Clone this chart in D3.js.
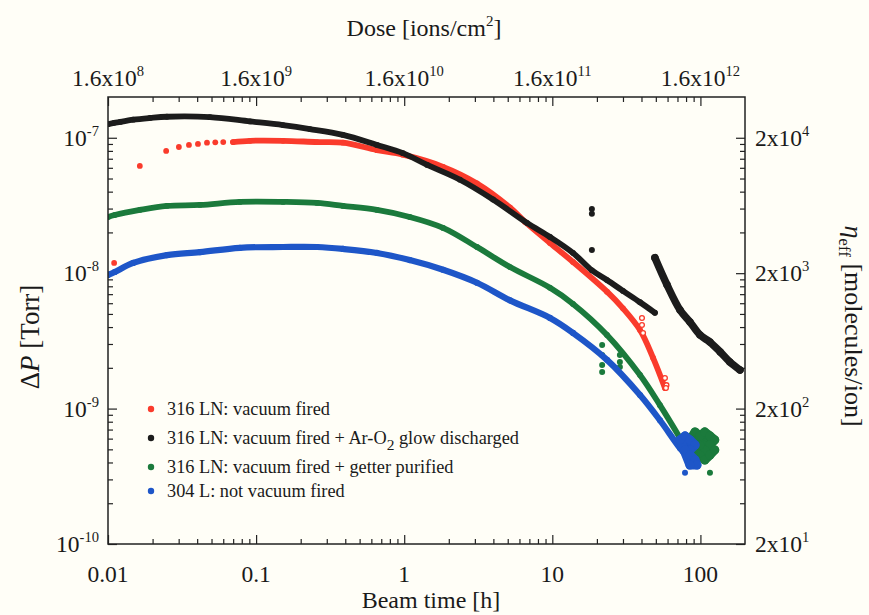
<!DOCTYPE html>
<html><head><meta charset="utf-8">
<script src="https://cdn.jsdelivr.net/npm/d3@7"></script>
<style>
html,body{margin:0;padding:0;background:#fffef7;}
svg{display:block;}
text{font-family:"Liberation Serif","Times New Roman",serif;fill:#1a1a1a;}
</style></head><body>
<svg id="chart" width="869" height="615"></svg>
<script>
// ---------- data ----------
const seriesLabels = [
  "316 LN: vacuum fired",
  "316 LN: vacuum fired + Ar-O2 glow discharged",
  "316 LN: vacuum fired + getter purified",
  "304 L: not vacuum fired"
];
const seriesColors = ["#fa3b2c", "#1c1c1c", "#1b7a3c", "#1e56c8"];

const majorTimes = [0.01, 0.1, 1, 10, 100];          // beam time [h]
const majorPressures = [1e-10, 1e-9, 1e-8, 1e-7];    // ΔP [Torr]
const dosePerHour = 1.6e10;                           // ions/cm² per hour of beam
const etaPerTorr = 2e11;                              // molecules/ion per Torr

// [beam time h, ΔP Torr]
const redDots = [[0.011,1.19e-8],[0.0164,6.2e-8],[0.0247,8.0e-8],[0.0301,8.55e-8],[0.0352,8.85e-8],
  [0.0405,9.0e-8],[0.0466,9.2e-8],[0.053,9.25e-8],[0.06,9.3e-8]];
const redTrace = [[0.0698,9.3e-8],[0.091,9.5e-8],[0.152,9.5e-8],[0.258,9.3e-8],[0.386,9.2e-8],
  [0.655,8.1e-8],[0.98,7.5e-8],[1.83,6.1e-8],[3.10,4.6e-8],[5.18,3.05e-8],[6.55,2.39e-8],
  [9.65,1.67e-8],[13.8,1.21e-8],[23.4,7.3e-9],[30,5.5e-9],[39.1,3.8e-9],
  [47.9,2.37e-9],[57.6,1.42e-9]];
const redOpen = [[40.3,4.67e-9],[40.3,4.14e-9],[41,3.62e-9],[57.6,1.68e-9],[59,1.49e-9],[58.5,1.42e-9]];

const blackTrace = [[0.01,1.26e-7],[0.011,1.29e-7],[0.0121,1.31e-7],[0.0148,1.36e-7],[0.0192,1.40e-7],
  [0.025,1.43e-7],[0.0488,1.42e-7],[0.091,1.32e-7],[0.152,1.24e-7],[0.231,1.16e-7],[0.386,1.05e-7],
  [0.655,8.85e-8],[0.98,7.7e-8],[1.43,6.3e-8],[2.38,4.9e-8],[3.98,3.5e-8],[6.75,2.35e-8],
  [9.65,1.85e-8],[13.8,1.41e-8],[18.5,1.05e-8],[23.4,8.9e-9],[30,7.4e-9],[39.1,6.1e-9],[49.3,5.1e-9]];
const blackTraceLate = [[49.3,1.30e-8],[59.5,8.2e-9],[72.8,5.35e-9],[85,4.36e-9],[99.3,3.5e-9],
  [116,3.1e-9],[136,2.62e-9],[158,2.21e-9],[185,1.93e-9]];
const blackStray = [[18.5,2.98e-8],[18.5,2.75e-8],[18.5,1.48e-8]];

const greenTrace = [[0.01,2.6e-8],[0.0111,2.69e-8],[0.0164,2.93e-8],[0.025,3.14e-8],[0.0418,3.19e-8],
  [0.0778,3.36e-8],[0.152,3.36e-8],[0.258,3.3e-8],[0.386,3.14e-8],[0.655,2.93e-8],[1.09,2.6e-8],
  [1.83,2.16e-8],[3.10,1.56e-8],[5.18,1.11e-8],[9.65,7.8e-9],[13.8,5.93e-9],[23.4,3.5e-9],
  [39.1,1.77e-9],[53.3,1.06e-9],[72.8,6.07e-10]];
const greenSpikes = [[21.7,2.95e-9],[21.7,2.49e-9],[21.7,2.10e-9],[21.7,1.86e-9],
  [28.6,2.49e-9],[28.6,2.21e-9],[28.6,2.03e-9]];
const greenCluster = [[85,5.87e-10],[92,6.72e-10],[99,6.28e-10],[107,6.72e-10],[116,6.28e-10],
  [125,5.87e-10],[116,5.38e-10],[107,4.95e-10],[99,5.38e-10],[92,5.38e-10],[85,4.95e-10],
  [99,4.54e-10],[107,4.17e-10],[116,4.54e-10],[125,4.95e-10]];
const greenStray = [[116,3.36e-10]];

const blueTrace = [[0.01,9.7e-9],[0.0111,1.02e-8],[0.0148,1.19e-8],[0.025,1.36e-8],[0.0418,1.43e-8],
  [0.0778,1.54e-8],[0.152,1.56e-8],[0.258,1.56e-8],[0.386,1.51e-8],[0.655,1.41e-8],[1.09,1.25e-8],
  [1.83,1.06e-8],[3.10,8.5e-9],[5.18,6.3e-9],[9.65,4.67e-9],[13.8,3.62e-9],[23.4,2.29e-9],
  [39.1,1.26e-9],[53.3,8.2e-10],[72.8,5.1e-10],[87.8,4.0e-10]];
const blueCluster = [[72.8,5.87e-10],[78.7,6.28e-10],[85,5.87e-10],[92,5.38e-10],[85,4.95e-10],
  [78.7,4.95e-10],[85,4.54e-10],[92,4.17e-10],[94.8,3.83e-10],[85,3.83e-10]];
const blueStray = [[78.7,3.36e-10]];

// ---------- layout ----------
const L = 108, R = 745, T = 97, B = 544;
const svg = d3.select("#chart");
svg.append("rect").attr("width", 869).attr("height", 615).attr("fill", "#fffef7");

const x = d3.scaleLog().domain([0.01, 200]).range([L, R]);
const y = d3.scaleLog().domain([1e-10, 2e-7]).range([B, T]);

const isDecade = v => Math.abs(Math.log10(v) - Math.round(Math.log10(v))) < 1e-9;
const xMinor = x.ticks().filter(v => !isDecade(v) && v < 200);
const yMinor = y.ticks().filter(v => !isDecade(v) && v < 2e-7);

function tickLayer(axisFn, scale, values, size, transform) {
  svg.append("g").attr("transform", transform)
    .call(axisFn(scale).tickValues(values).tickSizeInner(-size).tickSizeOuter(0).tickFormat(""))
    .call(g => g.select(".domain").remove())
    .call(g => g.selectAll("line").attr("stroke", "#222").attr("stroke-width", 1.2));
}
tickLayer(d3.axisBottom, x, xMinor, 5, `translate(0,${B})`);
tickLayer(d3.axisBottom, x, majorTimes, 9, `translate(0,${B})`);
tickLayer(d3.axisTop, x, xMinor, 5, `translate(0,${T})`);
tickLayer(d3.axisTop, x, majorTimes, 9, `translate(0,${T})`);
tickLayer(d3.axisLeft, y, yMinor, 5, `translate(${L},0)`);
tickLayer(d3.axisLeft, y, majorPressures, 9, `translate(${L},0)`);
tickLayer(d3.axisRight, y, yMinor, 5, `translate(${R},0)`);
tickLayer(d3.axisRight, y, majorPressures, 9, `translate(${R},0)`);

// ---------- data marks ----------
svg.append("clipPath").attr("id", "plotclip")
  .append("rect").attr("x", L).attr("y", T).attr("width", R - L).attr("height", B - T);
const plot = svg.append("g").attr("clip-path", "url(#plotclip)");

const line = d3.line().x(d => x(d[0])).y(d => y(d[1])).curve(d3.curveCatmullRom.alpha(0.5));
const scribble = d3.line().x(d => x(d[0])).y(d => y(d[1])).curve(d3.curveLinearClosed);
function trace(data, color, w) {
  plot.append("path").datum(data).attr("d", line).attr("fill", "none")
    .attr("stroke", color).attr("stroke-width", w)
    .attr("stroke-linecap", "round").attr("stroke-linejoin", "round");
  dots(data, color, w / 2);
}
function blob(data, color) {
  plot.append("path").datum(data).attr("d", scribble).attr("fill", color)
    .attr("stroke", color).attr("stroke-width", 9).attr("stroke-linejoin", "round");
  dots(data, color, 4.5);
}
function dots(data, color, r) {
  plot.append("g").selectAll("circle").data(data).join("circle")
    .attr("cx", d => x(d[0])).attr("cy", d => y(d[1])).attr("r", r).attr("fill", color);
}
function openDots(data, color, r) {
  plot.append("g").selectAll("circle").data(data).join("circle")
    .attr("cx", d => x(d[0])).attr("cy", d => y(d[1])).attr("r", r)
    .attr("fill", "#fffef7").attr("stroke", color).attr("stroke-width", 1.3);
}

const [cRed, cBlack, cGreen, cBlue] = seriesColors;
dots(redDots, cRed, 2.9);
trace(redTrace, cRed, 5.8);
openDots(redOpen, cRed, 2.4);
trace(blackTrace, cBlack, 5.8);
trace(blackTraceLate, cBlack, 7.5);
dots(blackStray, cBlack, 3);
trace(greenTrace, cGreen, 5.8);
dots(greenSpikes, cGreen, 3);
blob(greenCluster, cGreen);
dots(greenStray, cGreen, 3);
trace(blueTrace, cBlue, 6.2);
blob(blueCluster, cBlue);
dots(blueStray, cBlue, 3);

// ---------- frame ----------
svg.append("rect").attr("x", L).attr("y", T).attr("width", R - L).attr("height", B - T)
  .attr("fill", "none").attr("stroke", "#222").attr("stroke-width", 1.5);

// ---------- tick labels ----------
const tickFont = 23.5;
function powerLabel(g, px, py, anchor, mant, exp, size) {
  const t = g.append("text").attr("x", px).attr("y", py).attr("text-anchor", anchor)
    .attr("font-size", size);
  t.append("tspan").text(mant);
  t.append("tspan").attr("dy", -size * 0.42).attr("font-size", size * 0.62).text(exp);
  return t;
}
const labels = svg.append("g");
majorTimes.forEach(t => {
  labels.append("text").attr("x", x(t)).attr("y", 582).attr("text-anchor", "middle")
    .attr("font-size", tickFont).text(String(t));
  const e = Math.round(Math.log10(t * dosePerHour / 1.6));
  powerLabel(labels, x(t), 86, "middle", "1.6x10", String(e), tickFont);
});
majorPressures.forEach(p => {
  const e = Math.round(Math.log10(p));
  powerLabel(labels, 99, y(p) + 8, "end", "10", String(e), tickFont);
  const eEta = Math.round(Math.log10(p * etaPerTorr / 2));
  powerLabel(labels, 755, y(p) + 8, "start", "2x10", String(eEta), tickFont);
});

// ---------- axis titles ----------
svg.append("text").attr("x", 431).attr("y", 608).attr("text-anchor", "middle")
  .attr("font-size", 24).text("Beam time [h]");
const dose = svg.append("text").attr("x", 424).attr("y", 36).attr("text-anchor", "middle")
  .attr("font-size", 24);
dose.append("tspan").text("Dose [ions/cm");
dose.append("tspan").attr("dy", -10).attr("font-size", 15).text("2");
dose.append("tspan").attr("dy", 10).text("]");

const yl = svg.append("text").attr("transform", "translate(39,337) rotate(-90)")
  .attr("text-anchor", "middle").attr("font-size", 27);
yl.append("tspan").text("Δ");
yl.append("tspan").attr("font-style", "italic").text("P");
yl.append("tspan").text(" [Torr]");

const yr = svg.append("text").attr("transform", "translate(845,326) rotate(90)")
  .attr("text-anchor", "middle").attr("font-size", 26);
yr.append("tspan").attr("font-style", "italic").text("η");
yr.append("tspan").attr("dy", 6).attr("font-size", 17).text("eff");
yr.append("tspan").attr("dy", -6).text(" [molecules/ion]");

// ---------- legend ----------
const legendRows = [409, 438, 467, 491];
const legend = svg.append("g");
seriesLabels.forEach((s, i) => {
  legend.append("circle").attr("cx", 151).attr("cy", legendRows[i]).attr("r", 3.2)
    .attr("fill", seriesColors[i]);
  const t = legend.append("text").attr("x", 167).attr("y", legendRows[i] + 6).attr("font-size", 18.3);
  const m = s.match(/^(.*Ar-O)2(.*)$/);
  if (m) {
    t.append("tspan").text(m[1]);
    t.append("tspan").attr("dy", 6).attr("font-size", 15.5).text("2");
    t.append("tspan").attr("dy", -6).text(m[2]);
  } else {
    t.text(s);
  }
});
</script>
</body></html>
